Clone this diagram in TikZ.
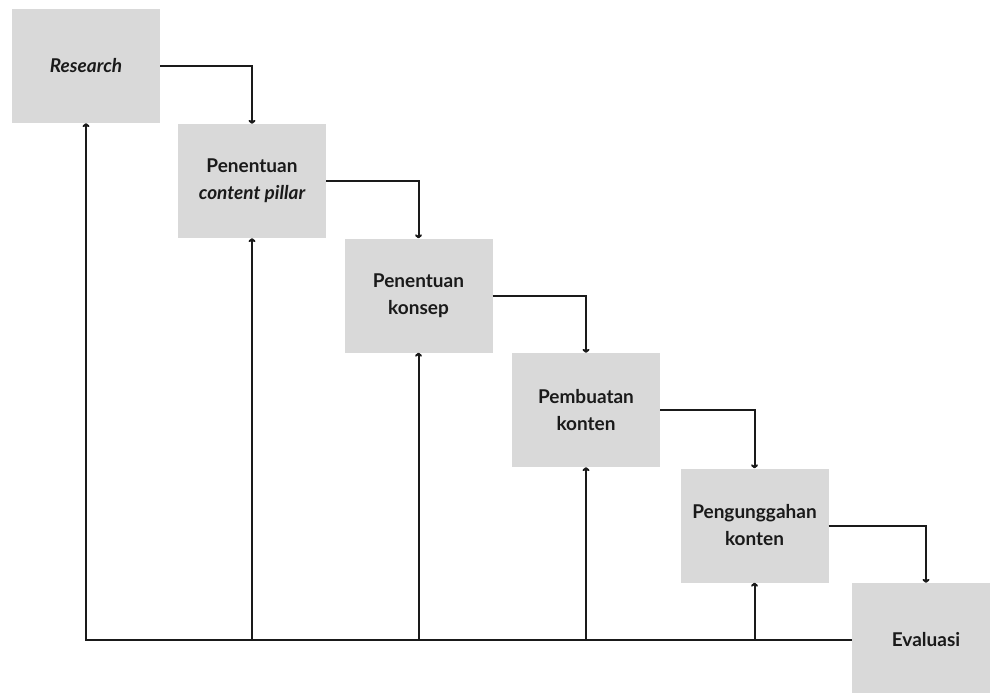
\documentclass[tikz,border=0pt]{standalone}
\usepackage{fontspec}
\setmainfont{Lato}
\usetikzlibrary{arrows.meta}
\definecolor{boxgray}{HTML}{D9D9D9}
\definecolor{linecol}{HTML}{1A1A1A}
\tikzset{
  stepbox/.style={fill=boxgray, minimum width=148pt, minimum height=114pt, inner sep=0pt, align=center, font=\fontsize{19}{27}\selectfont\bfseries, text=linecol},
  conn/.style={draw=linecol, line width=2pt},
  arr/.style={conn, -{To[length=4pt,width=7pt]}}
}
\begin{document}
\begin{tikzpicture}[x=1pt,y=-1pt]
\useasboundingbox (0,0) rectangle (990,693);
\clip (0,0) rectangle (990,693);
\node[stepbox] (r) at (86,66) {\itshape Research};
\node[stepbox] (b2) at (252,181) {Penentuan\\\itshape content pillar};
\node[stepbox] (b3) at (418.5,295.5) {Penentuan\\konsep};
\node[stepbox] (b4) at (586,410) {Pembuatan\\konten};
\node[stepbox] (b5) at (754.5,525.5) {Pengunggahan\\konten};
\node[stepbox] (ev) at (926,640) {Evaluasi};
\draw[arr] (r.east) -| (b2.north);
\draw[arr] (b2.east) -| (b3.north);
\draw[arr] (b3.east) -| (b4.north);
\draw[arr] (b4.east) -| (b5.north);
\draw[arr] (b5.east) -| (ev.north);
\coordinate (fl) at (r.south |- ev.west);
\draw[arr] (ev.west) -- (fl) -- (r.south);
\coordinate (c2) at (b2.south |- ev.west);
\coordinate (c3) at (b3.south |- ev.west);
\coordinate (c4) at (b4.south |- ev.west);
\coordinate (c5) at (b5.south |- ev.west);
\draw[arr] (c2) -- (b2.south);
\draw[arr] (c3) -- (b3.south);
\draw[arr] (c4) -- (b4.south);
\draw[arr] (c5) -- (b5.south);
\end{tikzpicture}
\end{document}
